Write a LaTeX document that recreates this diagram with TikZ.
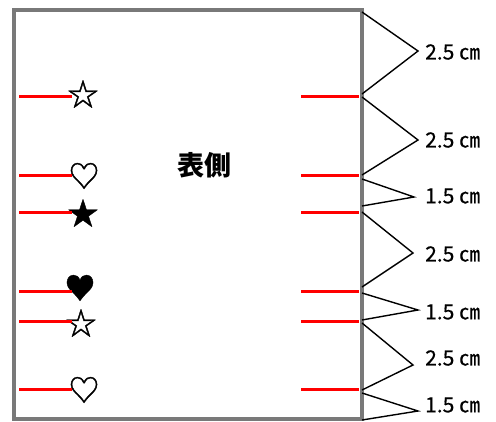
\documentclass[tikz,border=0pt]{standalone}
\usepackage{fontspec}
\setmainfont{Noto Sans CJK JP}
\newfontfamily\symfont[FakeBold=1.2]{Noto Sans CJK JP}
\newfontfamily\labfont[FakeBold=0.5]{Noto Sans CJK JP}
\begin{document}
\begin{tikzpicture}[x=1pt,y=-1pt,
  frame/.style={draw=gray!95!black,line width=4pt},
  redline/.style={draw=red,line width=3pt},
  zig/.style={draw=black,line width=1.4pt},
  sym/.style={font=\symfont\fontsize{31}{31}\selectfont,inner sep=0pt},
  lab/.style={font=\labfont\fontsize{21}{21}\selectfont,anchor=west,inner sep=0pt}]
\useasboundingbox (0,0) rectangle (496,421);
\node[draw=none,minimum width=348pt,minimum height=409pt,inner sep=0pt,frame] (box) at (188,214) {};
\node[font=\bfseries\fontsize{27}{27}\selectfont,inner sep=0pt] (title) at (204,165) {表側};
% left marks
\foreach \n/\y/\s/\sx/\sy in {a/96/☆/83/94,b/175/♡/84/176,c/212/★/83/213,d/291/♥/80/288,e/321/☆/81/323,f/389/♡/84/390}{
  \coordinate (L\n) at (19,\y);
  \node[sym] (S\n) at (\sx,\sy) {\s};
  \draw[redline] (L\n) -- (72,\y);
  \coordinate (R\n1) at (301,\y);
  \coordinate (R\n2) at (359,\y);
  \draw[redline] (R\n1) -- (R\n2);
}
% zigzags
\foreach \i/\ya/\yb/\xt/\yt/\ly/\t in {1/12/94/418/51/52/2.5,2/97/175/418/140/140/2.5,3/179/206/414/197/196/1.5,4/212/287/413/253/254/2.5,5/293/320/418/310/312/1.5,6/323/390/413/365/358/2.5,7/393/420/418/411/405/1.5}{
  \coordinate (A\i) at (362,\ya);
  \coordinate (T\i) at (\xt,\yt);
  \coordinate (B\i) at (362,\yb);
  \draw[zig,line join=miter] (A\i) -- (T\i) -- (B\i);
  \node[lab] (N\i) at (425,\ly) {\t{} ㎝};
}
\end{tikzpicture}
\end{document}
